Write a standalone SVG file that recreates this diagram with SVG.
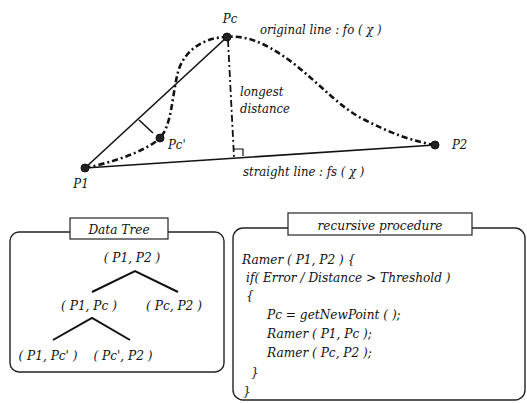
<svg xmlns="http://www.w3.org/2000/svg" width="527" height="403" viewBox="0 0 527 403">
<style>
text{font-family:'DejaVu Serif Condensed','DejaVu Serif',serif;font-style:italic;fill:#111;font-size:13.5px}
.lbl{font-size:13px}
.solid{stroke:#111;stroke-width:1.6;fill:none}
.dd{stroke:#111;stroke-width:2.6;fill:none;stroke-dasharray:6 3 2 3}
.dd2{stroke:#111;stroke-width:1.8;fill:none;stroke-dasharray:7 3 2 3}
.pt{fill:#222;stroke:#111;stroke-width:1}
.box{fill:none;stroke:#222;stroke-width:1.4}
.tbox{fill:#fff;stroke:#222;stroke-width:1.2}
.tree{stroke:#111;stroke-width:2;fill:none}
</style>
<rect width="527" height="403" fill="#fff"/>
<g id="connectors">
<path class="dd" d="M85,168 C110,163 145,152 160,138 C172,125 172,95 178,72 C184,50 205,37 227,37 C245,35 265,42 293,63 C320,84 340,108 365,120 C390,133 415,142 435,145"/>
<line class="solid" x1="85" y1="168" x2="435" y2="145"/>
<line class="solid" x1="85" y1="168" x2="227" y2="37"/>
<line class="dd2" x1="228" y1="40" x2="234" y2="157"/>
<polyline class="solid" style="stroke-width:1.2" points="234,149 243,149 243,156"/>
<line class="solid" x1="139" y1="120" x2="153" y2="133"/>
</g>
<g id="labels">
<text class="lbl" x="260" y="34">original line : fo ( χ )</text>
<text class="lbl" x="240" y="96">longest</text>
<text class="lbl" x="240" y="113">distance</text>
<text class="lbl" x="243" y="176">straight line : fs ( χ )</text>
</g>
<g id="node-P1"><circle class="pt" cx="85" cy="168" r="4"/><text class="lbl" x="81" y="188" text-anchor="middle">P1</text></g>
<g id="node-Pc"><circle class="pt" cx="227" cy="37" r="4"/><text class="lbl" x="230" y="23" text-anchor="middle">Pc</text></g>
<g id="node-Pc2"><circle class="pt" cx="160" cy="138" r="4"/><text class="lbl" x="168" y="149">Pc'</text></g>
<g id="node-P2"><circle class="pt" cx="435" cy="145" r="4"/><text class="lbl" x="452" y="149">P2</text></g>
<g id="data-tree">
<rect class="box" x="10" y="232" width="214" height="140" rx="9"/>
<rect class="tbox" x="70" y="218" width="98" height="21"/>
<text x="119" y="234" text-anchor="middle">Data Tree</text>
<polyline class="tree" points="92,292 135,271 178,292"/>
<polyline class="tree" points="53,340 92,318 130,340"/>
<g id="tree-root"><text x="132" y="262" text-anchor="middle">( P1, P2 )</text></g>
<g id="tree-p1pc"><text x="89" y="310" text-anchor="middle">( P1, Pc )</text></g>
<g id="tree-pcp2"><text x="174" y="310" text-anchor="middle">( Pc, P2 )</text></g>
<g id="tree-p1pc2"><text x="48" y="360" text-anchor="middle">( P1, Pc' )</text></g>
<g id="tree-pc2p2"><text x="123" y="360" text-anchor="middle">( Pc', P2 )</text></g>
</g>
<g id="recursive-procedure">
<rect class="box" x="233" y="228" width="292" height="172" rx="10"/>
<rect class="tbox" x="288" y="213" width="184" height="22"/>
<text x="380" y="230" text-anchor="middle">recursive procedure</text>
<text x="242" y="264">Ramer ( P1, P2 ) {</text>
<text x="246" y="282">if( Error / Distance &gt; Threshold )</text>
<text x="246" y="300">{</text>
<text x="267" y="319">Pc = getNewPoint ( );</text>
<text x="267" y="338">Ramer ( P1, Pc );</text>
<text x="267" y="357">Ramer ( Pc, P2 );</text>
<text x="251" y="377">}</text>
<text x="243" y="396">}</text>
</g>
</svg>
